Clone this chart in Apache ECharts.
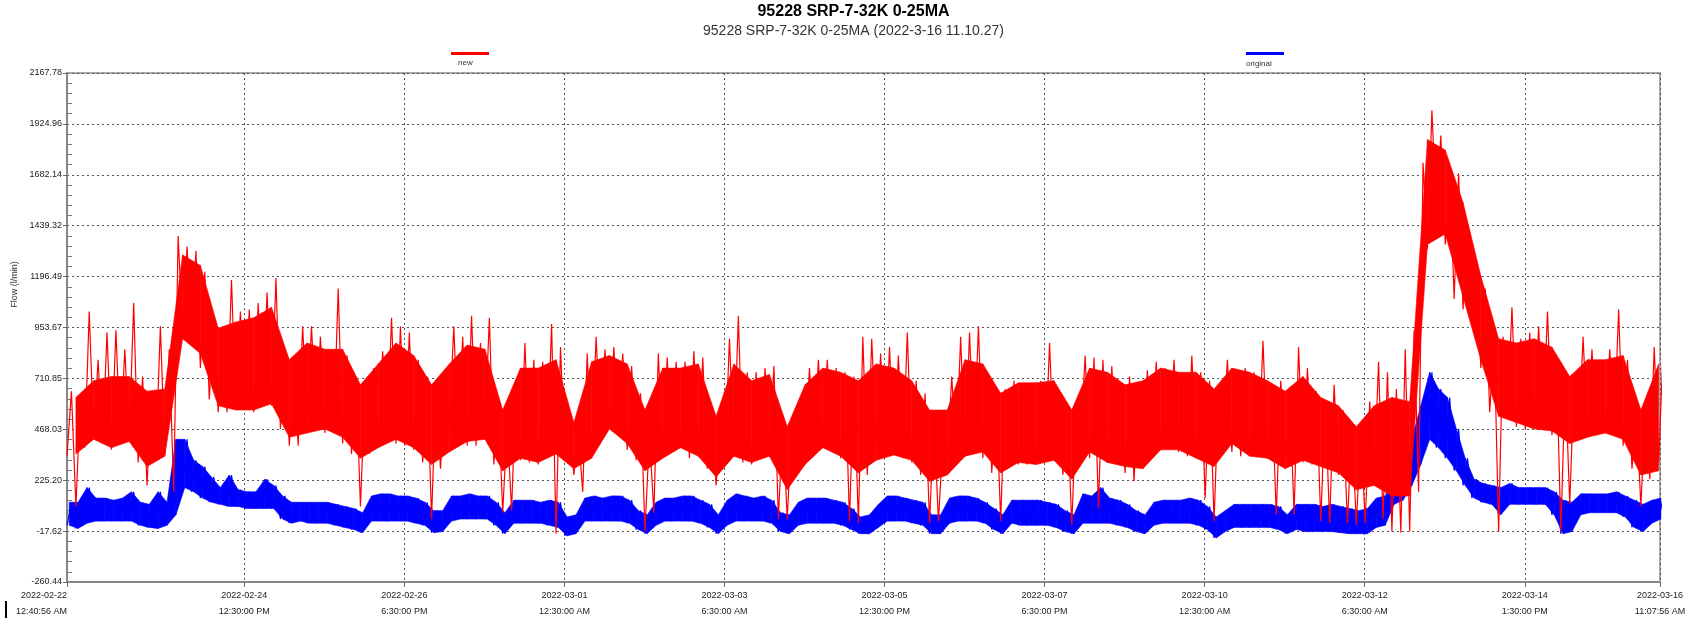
<!DOCTYPE html>
<html>
<head>
<meta charset="utf-8">
<title>95228 SRP-7-32K 0-25MA</title>
<script src="https://cdn.jsdelivr.net/npm/echarts@6.0.0/dist/echarts.min.js"></script>
<style>
  html, body { margin: 0; padding: 0; background: #fff; }
  #chart { width: 1707px; height: 620px; }
</style>
</head>
<body>
<div id="chart"></div>
<script>
// x axis: hours since 2022-02-22 12:40:56 AM
var tickHours = [0, 59.82, 113.82, 167.82, 221.82, 275.82, 329.82, 383.82, 437.82, 491.82, 537.45];
var tickLabels = [
  '2022-02-22\n12:40:56 AM', '2022-02-24\n12:30:00 PM', '2022-02-26\n6:30:00 PM',
  '2022-03-01\n12:30:00 AM', '2022-03-03\n6:30:00 AM', '2022-03-05\n12:30:00 PM',
  '2022-03-07\n6:30:00 PM', '2022-03-10\n12:30:00 AM', '2022-03-12\n6:30:00 AM',
  '2022-03-14\n1:30:00 PM', '2022-03-16\n11:07:56 AM'
];
var yTicks = [-260.44, -17.62, 225.20, 468.03, 710.85, 953.67, 1196.49, 1439.32, 1682.14, 1924.96, 2167.78];
var yLabels = ['-260.44', '-17.62', '225.20', '468.03', '710.85', '953.67', '1196.49', '1439.32', '1682.14', '1924.96', '2167.78'];

// one reading window every 3 hours: lowest and highest value seen in it (spikes, dips)
var STEP = 3;
var newLo = [
  340, 100, 380, 440, 400, 370, 400, 420, 310, 200,
  340, 350, 170, 930, 900, 760, 610, 550, 550, 560,
  560, 550, 590, 580, 470, 390, 390, 520, 490, 450,
  470, 400, 350, 100, 350, 400, 450, 400, 390, 370,
  310, 40, 280, 480, 420, 390, 390, 470, 300, 70,
  80, 320, 310, 300, 350, -30, 320, 250, 170, 340,
  470, 480, 440, 370, 320, -20, 70, 340, 370, 390,
  330, 340, 280, 200, 330, 350, 310, 300, 330, 350,
  40, 40, 260, 350, 370, 390, 360, 330, 30, 20,
  250, 400, 340, 350, 330, 310, 250, 20, 30, 330,
  340, 340, 390, 330, 260, 30, 330, 300, 300, 310,
  330, 320, 250, 10, 400, 330, 90, 310, 330, 260,
  220, 350, 370, 370, 390, 360, 340, 330, 140, 30,
  440, 360, 340, 340, 340, 330, 60, 340, 60, 310,
  300, 30, 20, 250, 20, 10, 20, 230, 40, -20,
  -25, -20, 170, 1330, 1500, 1350, 1090, 1040, 990, 760,
  550, -20, 520, 480, 470, 480, 500, 440, -20, 110,
  420, 440, 450, 460, 470, 390, 280, 100, 230, 310
];
var newHi = [
  650, 610, 1030, 800, 930, 940, 850, 1070, 720, 640,
  960, 850, 1390, 1340, 1320, 1220, 990, 960, 1180, 1030,
  1040, 1070, 1120, 1190, 850, 770, 960, 960, 910, 850,
  1140, 820, 720, 640, 760, 840, 1000, 960, 930, 800,
  720, 690, 620, 960, 910, 1010, 880, 1000, 620, 490,
  700, 880, 800, 790, 970, 860, 530, 460, 830, 910,
  850, 860, 830, 770, 640, 440, 830, 810, 790, 790,
  840, 810, 560, 490, 900, 1010, 740, 740, 760, 770,
  500, 470, 580, 760, 800, 800, 760, 740, 720, 910,
  900, 830, 860, 820, 930, 700, 640, 520, 400, 720,
  910, 930, 960, 740, 640, 660, 700, 690, 670, 700,
  880, 640, 560, 580, 820, 810, 800, 770, 640, 720,
  680, 750, 790, 760, 800, 720, 820, 740, 700, 640,
  800, 730, 760, 740, 890, 640, 700, 650, 860, 760,
  650, 600, 680, 560, 490, 470, 600, 790, 740, 660,
  850, 940, 1740, 1990, 1870, 1700, 1690, 1440, 1270, 1140,
  910, 910, 1050, 900, 930, 960, 1030, 800, 710, 720,
  910, 850, 800, 850, 1040, 800, 560, 570, 860, 850
];
// dense part of the red trace, one window every 6 hours
var CORE_STEP = 6;
var newCoreLo = [
  350, 420, 380, 410, 290, 340, 900, 830, 580, 560,
  560, 590, 430, 450, 470, 430, 330, 380, 420, 380,
  300, 360, 410, 420, 270, 330, 310, 350, 280, 330,
  470, 400, 270, 330, 380, 340, 240, 340, 310, 340,
  180, 300, 380, 340, 260, 320, 345, 320, 220, 250,
  340, 360, 260, 310, 300, 320, 230, 360, 310, 290,
  280, 370, 370, 330, 290, 400, 340, 330, 280, 320,
  290, 260, 180, 200, 150, 150, 1350, 1400, 1100, 800,
  530, 500, 470, 460, 400, 430, 450, 420, 250, 270
];
var newCoreHi = [
  620, 700, 720, 720, 650, 660, 1300, 1250, 950, 980,
  1000, 1050, 800, 880, 850, 850, 680, 780, 880, 820,
  680, 780, 870, 850, 560, 760, 760, 800, 500, 790,
  820, 780, 560, 760, 760, 780, 530, 780, 700, 730,
  480, 680, 760, 740, 700, 780, 760, 700, 560, 560,
  800, 780, 640, 690, 690, 700, 560, 760, 740, 680,
  700, 760, 740, 740, 660, 760, 740, 700, 650, 720,
  620, 580, 480, 580, 620, 600, 1850, 1800, 1550, 1200,
  900, 880, 900, 860, 720, 800, 800, 820, 560, 780
];
var origLo = [
  10, -5, 20, 30, 30, 30, 30, 30, 10, 0,
  -5, 10, 60, 190, 170, 140, 120, 110, 100, 100,
  90, 90, 90, 90, 40, 20, 30, 20, 20, 20,
  10, 0, -10, -25, 30, 30, 30, 30, 30, 20,
  10, -25, -20, 30, 40, 40, 40, 40, 10, -30,
  20, 20, 20, 20, 10, 0, -40, -30, 30, 30,
  30, 30, 30, 20, -10, -30, 10, 30, 30, 30,
  30, 20, 0, -30, 10, 30, 30, 30, 30, 20,
  -20, -30, 10, 20, 20, 20, 20, 10, -10, -30,
  -30, 0, 30, 30, 30, 20, 10, -30, -30, 20,
  30, 30, 30, 20, -10, -30, 20, 10, 10, 10,
  10, 0, -20, -30, 20, 20, 20, 20, 10, 0,
  -20, -30, 10, 20, 20, 20, 20, 10, -10, -50,
  -20, 0, 0, 0, 0, 0, -10, -30, -10, -20,
  -20, -20, -20, -25, -30, -30, -30, 0, 10, 110,
  130, 200, 300, 420, 380, 330, 270, 200, 140, 120,
  110, 60, 110, 110, 110, 110, 110, 60, -30, -20,
  60, 70, 70, 70, 70, 50, 0, -20, 20, 40
];
var origHi = [
  120, 120, 190, 140, 140, 130, 140, 170, 120, 110,
  170, 120, 420, 420, 320, 290, 240, 190, 250, 180,
  170, 170, 230, 200, 150, 120, 120, 120, 120, 120,
  110, 100, 90, 70, 150, 160, 160, 150, 150, 140,
  120, 80, 80, 150, 150, 160, 150, 150, 120, 70,
  130, 130, 130, 120, 130, 120, 50, 60, 140, 150,
  140, 150, 150, 130, 80, 60, 120, 140, 140, 150,
  150, 130, 110, 60, 130, 160, 150, 140, 150, 130,
  70, 60, 120, 140, 140, 140, 130, 120, 90, 50,
  60, 110, 150, 150, 140, 130, 120, 60, 60, 140,
  150, 150, 140, 120, 90, 60, 130, 130, 130, 130,
  120, 110, 80, 60, 160, 150, 190, 140, 130, 110,
  80, 60, 120, 130, 130, 130, 140, 130, 100, 50,
  80, 110, 110, 110, 110, 110, 100, 60, 110, 110,
  110, 100, 110, 100, 90, 80, 90, 140, 150, 250,
  250, 420, 580, 740, 660, 620, 470, 330, 230, 210,
  200, 190, 210, 190, 190, 190, 190, 170, 130, 120,
  160, 160, 160, 160, 170, 150, 130, 110, 130, 140
];

// low/high of each window drawn as a dense zigzag
function zigzag(lo, hi) {
  var pts = [];
  for (var i = 0; i < lo.length; i++) {
    pts.push([i * STEP, lo[i]]);
    pts.push([i * STEP + STEP / 2, hi[i]]);
  }
  return pts;
}

// filled band: one trapezoid between each pair of neighbouring windows
function bandSeries(lo, hi, step, offset, color, z) {
  var items = [];
  for (var i = 0; i < lo.length - 1; i++) {
    items.push([i * step + offset, lo[i], hi[i], (i + 1) * step + offset, lo[i + 1], hi[i + 1]]);
  }
  return {
    type: 'custom',
    silent: true,
    z: z,
    encode: { x: [0, 3], y: [1, 2, 4, 5] },
    renderItem: function (params, api) {
      var a = api.coord([api.value(0), api.value(1)]);
      var b = api.coord([api.value(3), api.value(4)]);
      var c = api.coord([api.value(3), api.value(5)]);
      var d = api.coord([api.value(0), api.value(2)]);
      return {
        type: 'polygon',
        shape: { points: [a, b, c, d] },
        style: { fill: color, stroke: color, lineWidth: 0.6 }
      };
    },
    data: items
  };
}

// minor tick positions between the labelled y ticks
var yMinor = [];
for (var i = 0; i < yTicks.length - 1; i++) {
  for (var j = 1; j < 5; j++) {
    yMinor.push(yTicks[i] + (yTicks[i + 1] - yTicks[i]) * j / 5);
  }
}

function lookup(values, labels, v) {
  for (var i = 0; i < values.length; i++) {
    if (Math.abs(values[i] - v) < 1e-6) return labels[i];
  }
  return '';
}

var FONT = 'Liberation Sans';
var series = [
  bandSeries(origLo, origHi, STEP, STEP / 4, '#0000ff', 2),
  {
    name: 'original', type: 'line', color: '#0000ff', symbol: 'none',
    lineStyle: { width: 1.2, color: '#0000ff' }, data: zigzag(origLo, origHi), z: 2
  },
  bandSeries(newCoreLo, newCoreHi, CORE_STEP, CORE_STEP / 2, '#ff0000', 3),
  {
    name: 'new', type: 'line', color: '#ff0000', symbol: 'none',
    lineStyle: { width: 1.2, color: '#ff0000' }, data: zigzag(newLo, newHi), z: 3
  }
];

var chart = echarts.init(document.getElementById('chart'));
chart.setOption({
  animation: false,
  backgroundColor: '#fff',
  title: {
    text: '95228 SRP-7-32K 0-25MA',
    subtext: '95228 SRP-7-32K 0-25MA (2022-3-16 11.10.27)',
    left: 'center',
    top: 4,
    itemGap: 4,
    padding: 0,
    textStyle: { fontFamily: FONT, fontSize: 16, fontWeight: 'bold', color: '#000' },
    subtextStyle: { fontFamily: FONT, fontSize: 14, color: '#333' }
  },
  legend: [
    { data: ['new'], left: 446, top: 47, icon: 'rect', itemWidth: 38, itemHeight: 3,
      selectedMode: false, formatter: function () { return ''; } },
    { data: ['original'], left: 1241, top: 47, icon: 'rect', itemWidth: 38, itemHeight: 3,
      selectedMode: false, formatter: function () { return ''; } }
  ],
  graphic: [
    { type: 'text', left: 458, top: 59, style: { text: 'new', fontFamily: FONT, fontSize: 8, fill: '#333' } },
    { type: 'text', left: 1246, top: 60, style: { text: 'original', fontFamily: FONT, fontSize: 8, fill: '#333' } },
    { type: 'rect', shape: { x: 5, y: 601, width: 2, height: 17 }, style: { fill: '#000' } }
  ],
  grid: {
    left: 67, right: 47, top: 73, bottom: 37,
    show: true, borderColor: '#a8a8a8', borderWidth: 2, backgroundColor: '#fff'
  },
  xAxis: {
    type: 'value',
    min: 0,
    max: 537.45,
    axisLine: { onZero: false, lineStyle: { color: '#888', width: 2 } },
    axisTick: { customValues: tickHours, length: 5, lineStyle: { color: '#666' } },
    axisLabel: {
      customValues: tickHours,
      formatter: function (v) { return lookup(tickHours, tickLabels, v); },
      alignMinLabel: 'right',
      fontFamily: FONT, fontSize: 9, lineHeight: 16, color: '#222', margin: 6
    },
    splitLine: { show: true, lineStyle: { color: '#555', type: [2, 3], width: 1 } }
  },
  yAxis: [
    {
      type: 'value',
      min: -260.44,
      max: 2167.78,
      name: 'Flow (l/min)',
      nameLocation: 'middle',
      nameGap: 44,
      nameTextStyle: { fontFamily: FONT, fontSize: 9, color: '#333', padding: [0, 0, 0, 86] },
      axisLine: { show: true, onZero: false, lineStyle: { color: '#888', width: 2 } },
      axisTick: { show: true, customValues: yTicks, length: 4, lineStyle: { color: '#666' } },
      axisLabel: {
        customValues: yTicks,
        formatter: function (v) { return lookup(yTicks, yLabels, v); },
        fontFamily: FONT, fontSize: 9, color: '#222', margin: 5
      },
      splitLine: { show: true, lineStyle: { color: '#555', type: [2, 3], width: 1 } }
    },
    {
      type: 'value',
      min: -260.44,
      max: 2167.78,
      position: 'left',
      axisLine: { show: false },
      axisLabel: { show: false },
      splitLine: { show: false },
      axisTick: { show: true, inside: true, customValues: yMinor, length: 5, lineStyle: { color: '#777' } }
    }
  ],
  series: series
});
</script>
</body>
</html>
